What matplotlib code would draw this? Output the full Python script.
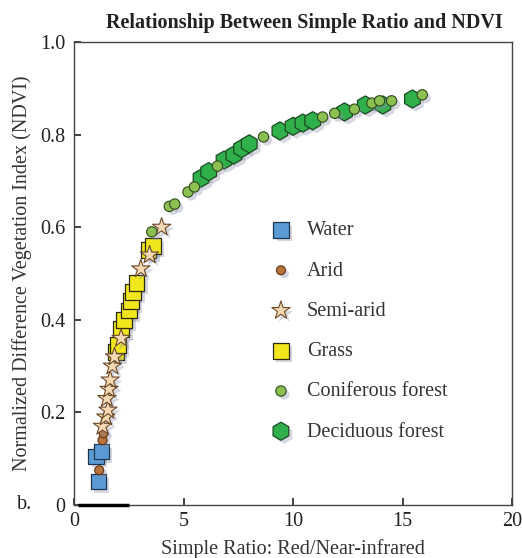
import matplotlib
matplotlib.use('Agg')
import matplotlib.pyplot as plt
import matplotlib.patheffects as pe

plt.rcParams['font.family'] = ['Liberation Serif', 'DejaVu Serif']

# valeurs (Simple Ratio, NDVI)
water_sr = [1.1, 1.0, 1.25]
water_ndvi = [0.05, 0.105, 0.115]

arid_sr = [1.15, 1.3, 1.35, 2.25]
arid_ndvi = [0.075, 0.14, 0.155, 0.40]

semi_sr = [1.3, 1.45, 1.55, 1.5, 1.6, 1.65, 1.75, 1.85, 2.15, 3.05, 3.45, 4.0]
semi_ndvi = [0.17, 0.19, 0.205, 0.23, 0.25, 0.27, 0.30, 0.32, 0.36, 0.51, 0.54, 0.60]

grass_sr = [1.9, 2.0, 2.15, 2.3, 2.5, 2.6, 2.7, 2.85, 3.4, 3.6]
grass_ndvi = [0.33, 0.345, 0.38, 0.40, 0.42, 0.44, 0.46, 0.48, 0.55, 0.56]

conif_sr = [3.55, 4.35, 4.6, 5.2, 5.5, 6.55, 8.65, 11.35, 11.9, 12.8, 13.6, 13.95, 14.5, 15.9]
conif_ndvi = [0.59, 0.645, 0.65, 0.676, 0.687, 0.732, 0.795, 0.838, 0.846, 0.855, 0.868, 0.873, 0.873, 0.886]

decid_sr = [5.8, 6.15, 6.85, 7.3, 7.65, 8.0, 9.4, 10.0, 10.45, 10.9, 12.35, 13.3, 14.1, 15.45]
decid_ndvi = [0.706, 0.72, 0.745, 0.756, 0.77, 0.78, 0.808, 0.818, 0.825, 0.83, 0.849, 0.864, 0.864, 0.877]

fig = plt.figure(figsize=(5.22, 5.58), dpi=100)
ax = fig.add_axes([0.1418, 0.095, 0.8392, 0.8297])

shadow = [pe.SimplePatchShadow(offset=(2.5, -2.5), shadow_rgbFace='#8a8fa8', alpha=0.35), pe.Normal()]

ax.scatter(water_sr, water_ndvi, s=120, marker='s', c='#5b9bd5', edgecolors='#1f3550', linewidths=0.9,
           label='Water', zorder=3, path_effects=shadow)
ax.scatter(arid_sr, arid_ndvi, s=42, marker='o', c='#b8733a', edgecolors='#5a3515', linewidths=0.8,
           label='Arid', zorder=3, path_effects=shadow)
ax.scatter(grass_sr, grass_ndvi, s=130, marker='s', c='#f2e61c', edgecolors='#2b2a10', linewidths=0.9,
           label='Grass', zorder=3, path_effects=shadow)
ax.scatter(semi_sr, semi_ndvi, s=190, marker='*', c='#f7d9b3', edgecolors='#6b4a2a', linewidths=0.8,
           label='Semi-arid', zorder=4, path_effects=shadow)
ax.scatter(decid_sr, decid_ndvi, s=170, marker='h', c='#2fb04a', edgecolors='#1b4a22', linewidths=0.9,
           label='Deciduous forest', zorder=3, path_effects=shadow)
ax.scatter(conif_sr, conif_ndvi, s=55, marker='o', c='#8cc152', edgecolors='#2d4a1a', linewidths=0.8,
           label='Coniferous forest', zorder=4, path_effects=shadow)

handles, labels = ax.get_legend_handles_labels()
order = ['Water', 'Arid', 'Semi-arid', 'Grass', 'Coniferous forest', 'Deciduous forest']
hmap = dict(zip(labels, handles))
leg = ax.legend([hmap[k] for k in order], order, loc='center left', bbox_to_anchor=(0.385, 0.375),
                frameon=False, fontsize=14.5, labelspacing=1.05, handletextpad=0.3, scatterpoints=1)
for t in leg.get_texts():
    t.set_color('#333333')

ax.plot([0.2, 2.5], [0, 0], color='black', lw=2.5, solid_capstyle='butt', clip_on=False, zorder=5)

ax.set_xlim(0, 20)
ax.set_ylim(0, 1.0)
ax.set_xticks([0, 5, 10, 15, 20])
ax.set_yticks([0, 0.2, 0.4, 0.6, 0.8, 1.0])
ax.set_yticklabels(['0', '0.2', '0.4', '0.6', '0.8', '1.0'])
ax.tick_params(direction='in', length=5, width=1.2, labelsize=14.5, colors='#222222', pad=5)
ax.tick_params(axis='y', pad=6)
for s in ax.spines.values():
    s.set_color('#444444')
    s.set_linewidth(1.0)

ax.set_xlabel('Simple Ratio: Red/Near-infrared', fontsize=14.5, color='#333333', labelpad=6)
ax.set_ylabel('Normalized Difference Vegetation Index (NDVI)', fontsize=14.5, color='#333333', labelpad=6)
ax.set_title('Relationship Between Simple Ratio and NDVI', fontsize=14.5, fontweight='bold',
             color='#222222', pad=10, x=0.525)
fig.text(0.033, 0.088, 'b.', fontsize=14.5, color='#222222')

fig.savefig('out.png', dpi=100)
